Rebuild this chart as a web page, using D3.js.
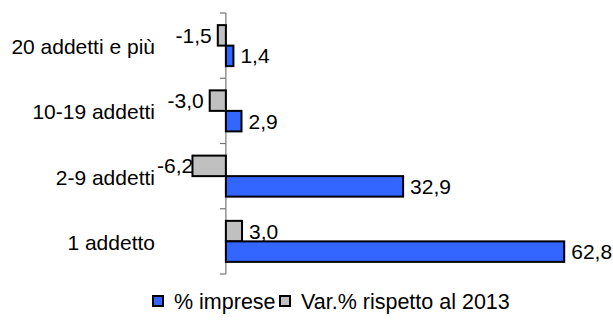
<!DOCTYPE html>
<html>
<head>
<meta charset="utf-8">
<script src="https://cdn.jsdelivr.net/npm/d3@7"></script>
<style>
  html, body { margin: 0; padding: 0; background: #fff; }
  svg { display: block; font-family: Arial, "Liberation Sans", sans-serif; }
</style>
</head>
<body>
<svg id="chart" width="613" height="320"></svg>
<script>
// Company size classes, listed top to bottom
const categories = ["20 addetti e più", "10-19 addetti", "2-9 addetti", "1 addetto"];
// Share of companies (%)
const impreseValues = [1.4, 2.9, 32.9, 62.8];
// Change (%) compared with 2013
const varValues = [-1.5, -3.0, -6.2, 3.0];
const seriesNames = ["% imprese", "Var.% rispetto al 2013"];
const seriesKeys = ["var", "imprese"];

const rows = categories.map((c, i) => ({ cat: c, imprese: impreseValues[i], var: varValues[i] }));
const colors = { imprese: "#3366ff", var: "#c0c0c0" };
// Italian decimal comma, plain hyphen for negatives
const fmt = v => d3.format(".1f")(v).replace(".", ",").replace("\u2212", "-");

const svg = d3.select("#chart");
const fontSize = 21;
const labelRight = 155;   // right edge of the category labels

const x = d3.scaleLinear().domain([-10, 70]).range([172, 603]);
const y = d3.scaleBand().domain(categories).range([13, 274]).padding(0);
const sub = d3.scaleBand().domain(seriesKeys).range([0, y.bandwidth()]).paddingInner(0).paddingOuter(0.59);

// Category axis at zero, ticks on the band boundaries
const gAxis = svg.append("g").attr("transform", `translate(${x(0)},0)`)
  .call(d3.axisLeft(y).tickSize(6).tickFormat(""));
gAxis.selectAll(".tick").remove();
const bounds = categories.map(c => y(c)).concat([y.range()[1]]);
gAxis.selectAll("line.b").data(bounds).join("line")
  .attr("class", "b")
  .attr("x1", -6).attr("x2", 0).attr("y1", d => d).attr("y2", d => d)
  .attr("stroke", "#777").attr("stroke-width", 1.2);
gAxis.select(".domain").attr("stroke", "#777").attr("stroke-width", 1.2)
  .attr("d", `M0,${y.range()[0]}V${y.range()[1]}`);

// Category labels
svg.append("g").selectAll("text").data(categories).join("text")
  .attr("x", labelRight).attr("y", d => y(d) + y.bandwidth() / 2 + 1)
  .attr("text-anchor", "end").attr("dominant-baseline", "central")
  .attr("font-size", fontSize).attr("fill", "#000").text(d => d);

// Bars
const groups = svg.append("g").selectAll("g").data(rows).join("g")
  .attr("transform", d => `translate(0,${y(d.cat)})`);

groups.selectAll("rect").data(d => seriesKeys.map(k => ({ key: k, value: d[k] }))).join("rect")
  .attr("x", d => x(Math.min(0, d.value)))
  .attr("width", d => Math.abs(x(d.value) - x(0)))
  .attr("y", d => sub(d.key))
  .attr("height", sub.bandwidth())
  .attr("fill", d => colors[d.key])
  .attr("stroke", "#000").attr("stroke-width", 2);

// Value labels; negative labels are kept clear of the category labels
groups.selectAll("text").data(d => seriesKeys.map(k => ({ key: k, value: d[k] }))).join("text")
  .attr("y", d => sub(d.key) + sub.bandwidth() / 2)
  .attr("text-anchor", "start")
  .attr("dominant-baseline", "central")
  .attr("font-size", fontSize).attr("fill", "#000")
  .text(d => fmt(d.value))
  .attr("x", function (d) {
    if (d.value >= 0) return x(d.value) + 7;
    const w = this.getComputedTextLength();
    return Math.max(x(d.value) - 6 - w, labelRight + 2);
  });

// Legend
const legend = svg.append("g").attr("transform", "translate(152,295)");
const legendItems = [
  { key: "imprese", name: seriesNames[0], x: 0 },
  { key: "var", name: seriesNames[1], x: 127 }
];
const li = legend.selectAll("g").data(legendItems).join("g")
  .attr("transform", d => `translate(${d.x},0)`);
li.append("rect").attr("x", 1).attr("y", 1).attr("width", 10).attr("height", 10)
  .attr("fill", d => colors[d.key]).attr("stroke", "#000").attr("stroke-width", 2);
li.append("text").attr("x", 22).attr("y", 7).attr("dominant-baseline", "central")
  .attr("font-size", 21.5).attr("fill", "#000").text(d => d.name);
</script>
</body>
</html>
